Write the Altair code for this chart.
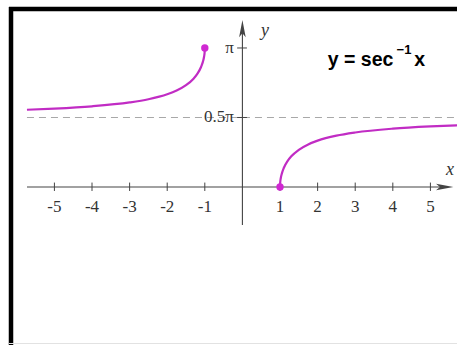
import altair as alt
import pandas as pd
import math

PI = math.pi

# y = arcsec(x): left branch (x <= -1) and right branch (x >= 1)
left_x = [-5.73, -5.0, -4.0, -3.0, -2.5, -2.0, -1.75, -1.5, -1.3, -1.2, -1.1, -1.05, -1.02, -1.005, -1.0]
left_y = [1.7462, 1.7722, 1.8235, 1.9106, 1.9823, 2.0944, 2.1790, 2.3005, 2.4484, 2.5559, 2.7119, 2.8334, 2.9433, 3.0418, 3.1416]
right_x = [1.0, 1.005, 1.02, 1.05, 1.1, 1.2, 1.3, 1.5, 1.75, 2.0, 2.5, 3.0, 4.0, 5.0, 5.71]
right_y = [0.0, 0.0998, 0.1983, 0.3082, 0.4297, 0.5857, 0.6931, 0.8411, 0.9626, 1.0472, 1.1593, 1.2310, 1.3181, 1.3694, 1.3950]

# closed endpoints of the two branches
end_x = [-1.0, 1.0]
end_y = [PI, 0.0]

# axis ticks and labels
x_ticks = [-5, -4, -3, -2, -1, 1, 2, 3, 4, 5]
x_tick_labels = ["-5", "-4", "-3", "-2", "-1", "1", "2", "3", "4", "5"]
y_ticks = [PI, 0.5 * PI]
y_tick_labels = ["π", "0.5π"]

W, H = 457, 345
X_DOM = [-6.447, 5.707]
Y_DOM = [-3.571, 4.226]

xs = alt.Scale(domain=X_DOM, nice=False, zero=False)
ys = alt.Scale(domain=Y_DOM, nice=False, zero=False)


def X(field="x"):
    return alt.X(f"{field}:Q", scale=xs, axis=None)


def Y(field="y"):
    return alt.Y(f"{field}:Q", scale=ys, axis=None)


AXIS_COLOR = "#444444"
CURVE_COLOR = "#c12cc4"
TEXT_COLOR = "#333333"
SERIF = "Liberation Serif"

# asymptote y = pi/2
asym = alt.Chart(pd.DataFrame({"x": [-5.73], "x2": [5.71], "y": [0.5 * PI]})).mark_rule(
    color="#a8a8a8", strokeWidth=1.2, strokeDash=[7, 5]
).encode(x=X(), x2="x2:Q", y=Y())

# coordinate axes
x_axis = alt.Chart(pd.DataFrame({"x": [-5.73], "x2": [5.3], "y": [0.0]})).mark_rule(
    color=AXIS_COLOR, strokeWidth=1.1
).encode(x=X(), x2="x2:Q", y=Y())
y_axis = alt.Chart(pd.DataFrame({"x": [0.0], "y": [-0.86], "y2": [3.6]})).mark_rule(
    color=AXIS_COLOR, strokeWidth=1.1
).encode(x=X(), y=Y(), y2="y2:Q")

ARROW_R = "M1,0 L-1,-0.38 L-0.55,0 L-1,0.38 Z"
ARROW_U = "M0,-1 L-0.38,1 L0,0.55 L0.38,1 Z"
x_arrow = alt.Chart(pd.DataFrame({"x": [5.38], "y": [0.0]})).mark_point(
    shape=ARROW_R, filled=True, size=300, color=AXIS_COLOR, opacity=1
).encode(x=X(), y=Y())
y_arrow = alt.Chart(pd.DataFrame({"x": [0.0], "y": [3.58]})).mark_point(
    shape=ARROW_U, filled=True, size=300, color=AXIS_COLOR, opacity=1
).encode(x=X(), y=Y())

# tick marks
xt = pd.DataFrame({"x": x_ticks, "y": -0.09, "y2": 0.1, "label": x_tick_labels, "ly": -0.46})
x_tick_marks = alt.Chart(xt).mark_rule(color=AXIS_COLOR, strokeWidth=1).encode(
    x=X(), y=Y(), y2="y2:Q"
)
x_tick_text = alt.Chart(xt).mark_text(
    font=SERIF, fontSize=17, color=TEXT_COLOR, baseline="middle", align="center"
).encode(x=X(), y=Y("ly"), text="label:N")

yt = pd.DataFrame({"y": y_ticks, "x": -0.14, "x2": 0.12, "label": y_tick_labels, "lx": -0.23})
y_tick_marks = alt.Chart(yt).mark_rule(color=AXIS_COLOR, strokeWidth=1).encode(
    x=X(), x2="x2:Q", y=Y()
)
y_tick_text = alt.Chart(yt).mark_text(
    font=SERIF, fontSize=17, color=TEXT_COLOR, baseline="middle", align="right"
).encode(x=X("lx"), y=Y(), text="label:N")

# axis names
axis_names = alt.Chart(
    pd.DataFrame({"x": [0.6, 5.52], "y": [3.53, 0.38], "t": ["y", "x"]})
).mark_text(
    font=SERIF, fontSize=18, fontStyle="italic", color=TEXT_COLOR, baseline="middle", align="center"
).encode(x=X(), y=Y(), text="t:N")

# the two branches of the curve
left_curve = alt.Chart(pd.DataFrame({"x": left_x, "y": left_y})).mark_line(
    color=CURVE_COLOR, strokeWidth=2.2, interpolate="monotone"
).encode(x=X(), y=Y())
right_curve = alt.Chart(pd.DataFrame({"x": right_x, "y": right_y})).mark_line(
    color=CURVE_COLOR, strokeWidth=2.2, interpolate="monotone"
).encode(x=X(), y=Y())
ends = alt.Chart(pd.DataFrame({"x": end_x, "y": end_y})).mark_point(
    filled=True, size=55, color="#d028d2", opacity=1
).encode(x=X(), y=Y())

# formula caption: y = sec^-1 x
cap = pd.DataFrame({
    "x": [2.27, 4.1, 4.57],
    "y": [2.87, 3.1, 2.87],
    "t": ["y = sec", "−1", "x"],
    "s": [19.5, 13, 19.5],
})
caption = alt.Chart(cap).mark_text(
    font="Liberation Sans", fontWeight="bold", color="#000000", baseline="middle", align="left"
).encode(x=X(), y=Y(), text="t:N", size=alt.Size("s:Q", scale=None, legend=None))

# frame: thick bars on the top and left edges, faint line at the bottom
frame_left = alt.Chart(pd.DataFrame({"a": [0]})).mark_rule(color="#000000", strokeWidth=4.5).encode(
    x=alt.value(11), y=alt.value(7), y2=alt.value(H)
)
frame_top = alt.Chart(pd.DataFrame({"a": [0]})).mark_rule(color="#000000", strokeWidth=4.5).encode(
    y=alt.value(9), x=alt.value(9), x2=alt.value(W)
)
frame_bottom = alt.Chart(pd.DataFrame({"a": [0]})).mark_rule(color="#e2e2e2", strokeWidth=1).encode(
    y=alt.value(343.5), x=alt.value(9), x2=alt.value(W)
)

chart = alt.layer(
    asym, x_axis, y_axis, x_arrow, y_arrow,
    x_tick_marks, x_tick_text, y_tick_marks, y_tick_text, axis_names,
    left_curve, right_curve, ends, caption,
    frame_left, frame_top, frame_bottom,
).properties(
    width=W, height=H, padding=0, autosize=alt.AutoSizeParams(type="none"),
    background="#ffffff",
).configure_view(stroke=None)

chart.save("out.html", embed_options={"renderer": "svg", "actions": False})
